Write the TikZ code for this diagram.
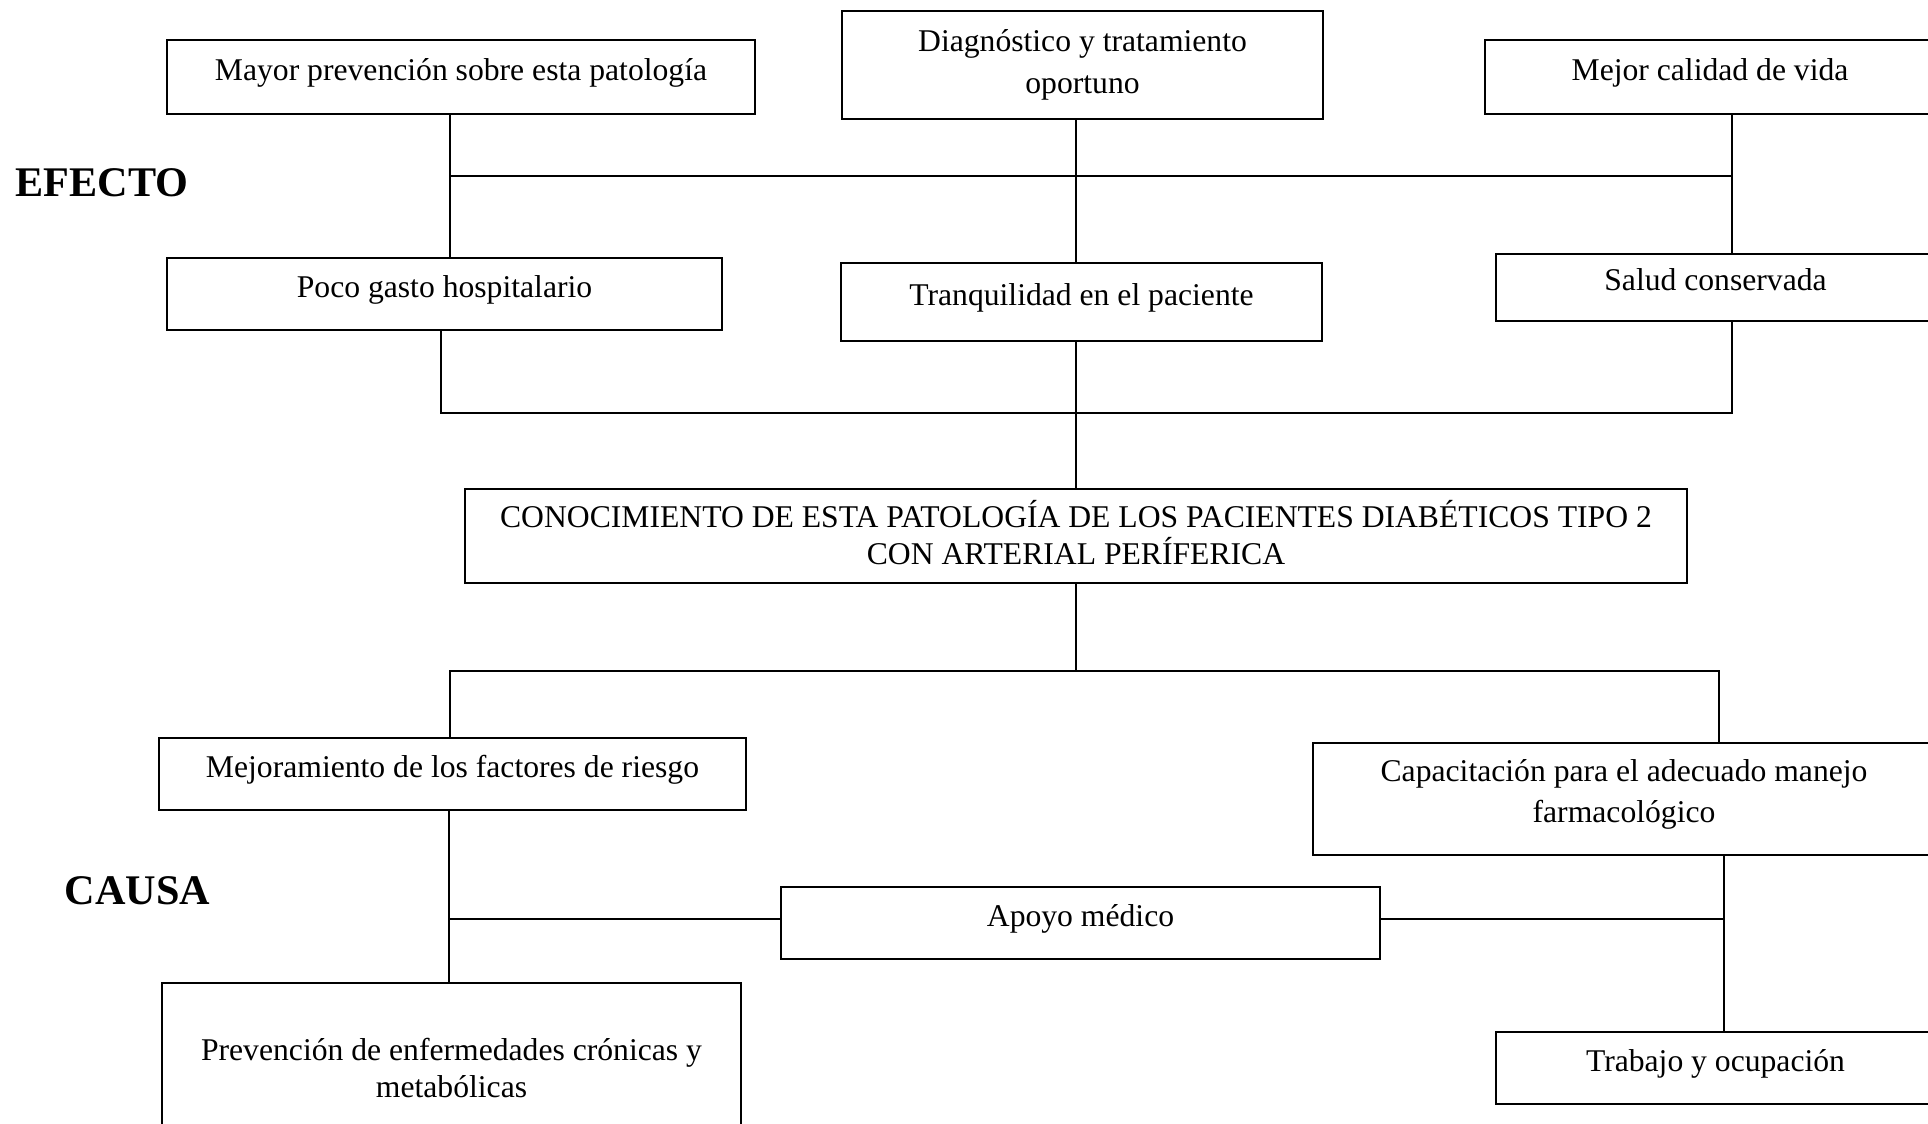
\documentclass[tikz,border=0pt]{standalone}
\usepackage{fontspec}
\setmainfont{Liberation Serif}
\usetikzlibrary{positioning}
\tikzset{x=0.01cm, y=-0.01cm, % One unit is one pixel of the sketch, y grows downwards
every node/.style={font=\fontsize{9}{11.5}\selectfont},
box/.style 2 args={ % Sets the properties for each box
draw, rectangle, line width=0.6pt,
align=center, inner sep=0pt, text depth=0.45em, % Lifts the text a little
minimum width=#1, minimum height=#2},
link/.style={line width=0.6pt}, % Connectors between the boxes
title/.style={ % Side labels
font=\fontsize{12}{14}\selectfont\bfseries,
inner sep=0pt, anchor=west}}

\begin{document}
\begin{tikzpicture}

    \path[use as bounding box, fill=white] (0,0) rectangle (1928,1123);

    \node[title] (efecto) at (15,183) {EFECTO};
    \node[title] (causa) at (64,891) {CAUSA};

    \node[box={5.88cm}{0.74cm}] (mayor) at (461,77) {Mayor prevención sobre esta patología};
    \node[box={4.81cm}{1.08cm}, text depth=0.2em, font=\fontsize{9}{12.2}\selectfont] (diag) at (1082.5,65) {Diagnóstico y tratamiento\\oportuno};
    \node[box={4.50cm}{0.74cm}] (mejor) at (1710,77) {Mejor calidad de vida};
    \node[box={5.55cm}{0.72cm}] (poco) at (444.5,294) {Poco gasto hospitalario};
    \node[box={4.81cm}{0.78cm}] (tranq) at (1081.5,302) {Tranquilidad en el paciente};
    \node[box={4.39cm}{0.67cm}] (salud) at (1715.5,287.5) {Salud conservada};
    \node[box={12.22cm}{0.94cm}, text depth=0.2em, font=\fontsize{9}{10.5}\selectfont] (prob) at (1076,536) {CONOCIMIENTO DE ESTA PATOLOGÍA DE LOS PACIENTES DIABÉTICOS TIPO 2\\CON ARTERIAL PERÍFERICA};
    \node[box={5.87cm}{0.72cm}] (mejora) at (452.5,774) {Mejoramiento de los factores de riesgo};
    \node[box={6.22cm}{1.12cm}] (capac) at (1624,799) {Capacitación para el adecuado manejo\\farmacológico};
    \node[box={5.99cm}{0.72cm}] (apoyo) at (1080.5,923) {Apoyo médico};
    \node[box={4.39cm}{0.72cm}] (trabajo) at (1715.5,1068) {Trabajo y ocupación};
    \node[box={5.79cm}{1.77cm}, text depth=0.2em, font=\fontsize{9}{10.5}\selectfont] (prev) at (451.5,1071.5) {Prevención de enfermedades crónicas y\\metabólicas};

    \coordinate (e1) at (450,176);
    \coordinate (e2) at (1732,176);
    \coordinate (e3) at (441,413);
    \coordinate (e4) at (1732,413);
    \coordinate (c1) at (450,671);
    \coordinate (c2) at (1719,671);
    \coordinate (c3) at (449,919);
    \coordinate (c4) at (1724,919);

    \draw[link] (mayor.south -| e1) -- (poco.north -| e1);
    \draw[link] (e1) -- (e2);
    \draw[link] (diag.south -| prob.north) -- (tranq.north -| prob.north);
    \draw[link] (mejor.south -| e2) -- (salud.north -| e2);
    \draw[link] (poco.south -| e3) -- (e3) -- (e4) -- (salud.south -| e4);
    \draw[link] (tranq.south -| prob.north) -- (prob.north);
    \draw[link] (prob.south) -- (prob.south |- c1);
    \draw[link] (mejora.north -| c1) -- (c1) -- (c2) -- (capac.north -| c2);
    \draw[link] (mejora.south -| c3) -- (prev.north -| c3);
    \draw[link] (c3) -- (c3 -| apoyo.west);
    \draw[link] (c4 -| apoyo.east) -- (c4);
    \draw[link] (capac.south -| c4) -- (trabajo.north -| c4);

\end{tikzpicture}
\end{document}
